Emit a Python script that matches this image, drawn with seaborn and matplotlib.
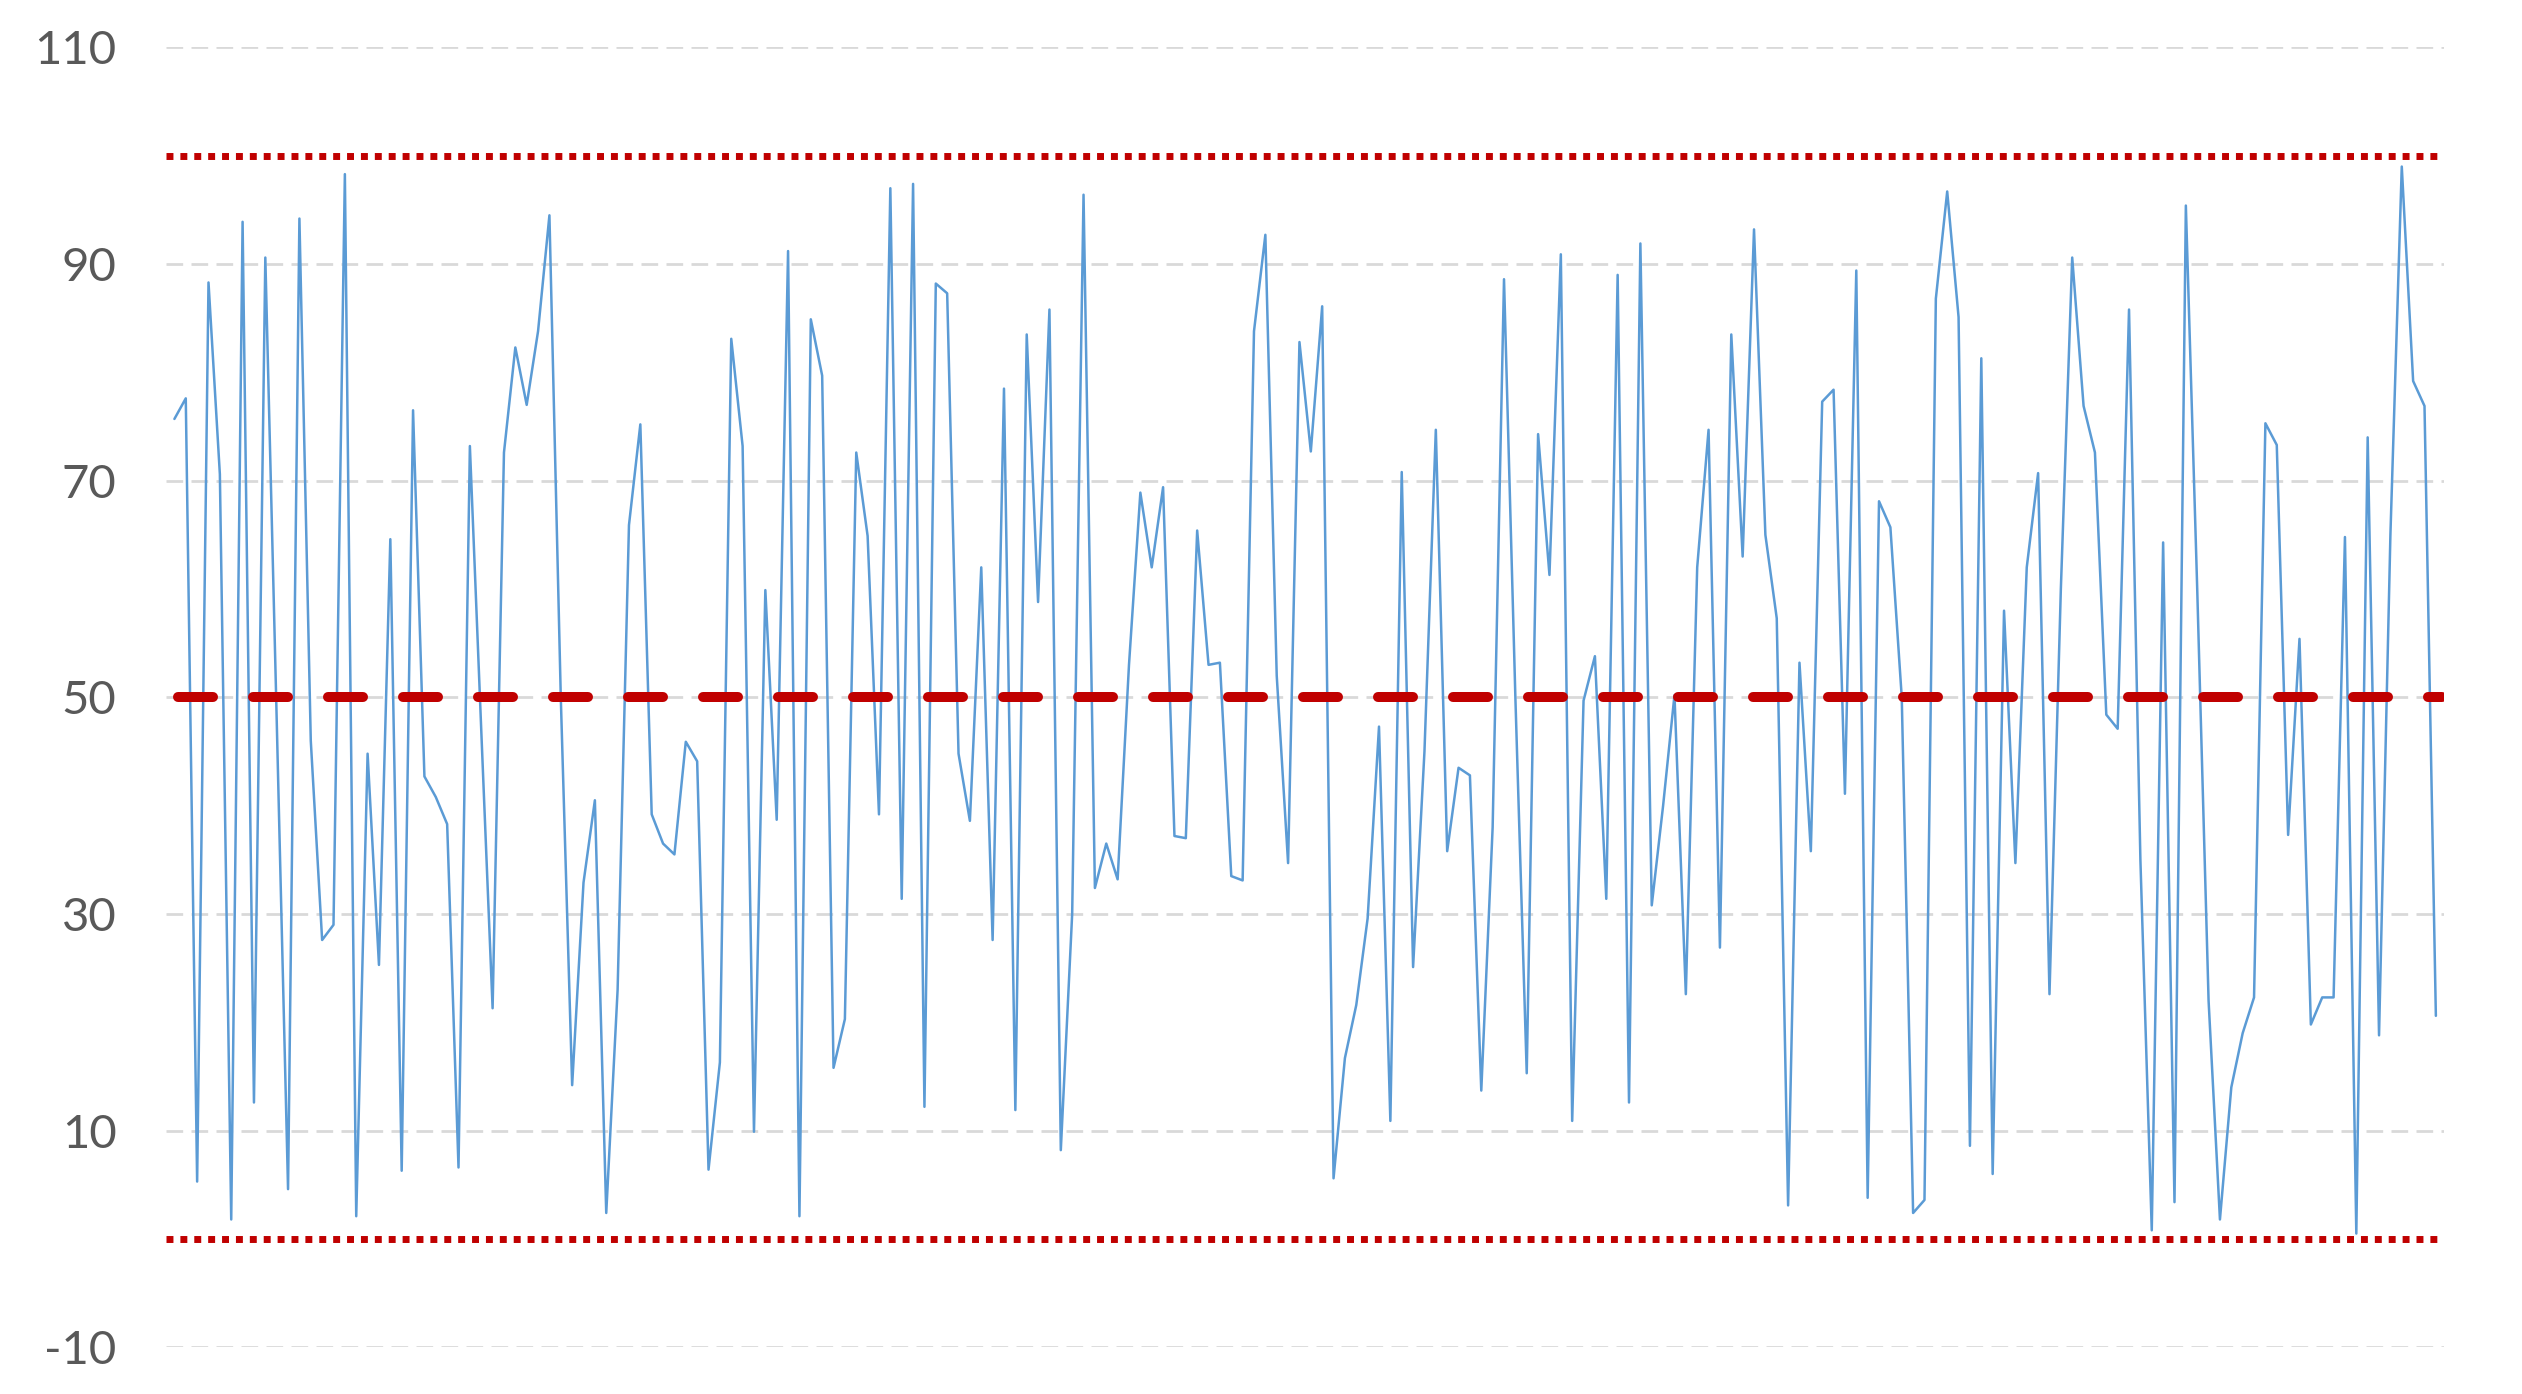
import numpy as np
import pandas as pd
import matplotlib
matplotlib.use("Agg")
import matplotlib.pyplot as plt
import seaborn as sns

# values (200 points)
values = [
    75.7, 77.6, 5.3, 88.3, 70.6, 1.8, 93.9, 12.6, 90.6, 48.0,
    4.6, 94.2, 46.0, 27.6, 29.0, 98.3, 2.1, 44.8, 25.3, 64.6,
    6.3, 76.5, 42.7, 40.8, 38.3, 6.6, 73.2, 47.0, 21.3, 72.6,
    82.3, 77.0, 83.8, 94.5, 50.0, 14.2, 32.9, 40.5, 2.4, 23.0,
    65.9, 75.2, 39.2, 36.5, 35.5, 45.9, 44.1, 6.4, 16.3, 83.1,
    73.2, 9.9, 59.9, 38.7, 91.2, 2.1, 84.9, 79.7, 15.8, 20.3,
    72.6, 64.9, 39.2, 97.0, 31.4, 97.4, 12.2, 88.2, 87.3, 44.8,
    38.6, 62.0, 27.6, 78.5, 11.9, 83.5, 58.8, 85.8, 8.2, 30.0,
    96.4, 32.4, 36.5, 33.2, 53.0, 68.9, 62.0, 69.4, 37.2, 37.0,
    65.4, 53.0, 53.2, 33.5, 33.1, 83.8, 92.7, 52.0, 34.7, 82.8,
    72.7, 86.1, 5.6, 16.7, 21.6, 29.6, 47.3, 10.9, 70.8, 25.1,
    45.0, 74.7, 35.8, 43.5, 42.8, 13.7, 38.0, 88.6, 50.0, 15.3,
    74.3, 61.3, 90.9, 10.9, 49.7, 53.8, 31.4, 89.0, 12.6, 91.9,
    30.8, 40.0, 50.2, 22.6, 62.0, 74.7, 26.9, 83.5, 63.0, 93.2,
    65.0, 57.3, 3.1, 53.2, 35.8, 77.3, 78.4, 41.1, 89.4, 3.8,
    68.1, 65.7, 50.0, 2.4, 3.6, 86.8, 96.7, 85.1, 8.6, 81.3,
    6.0, 58.0, 34.7, 62.0, 70.7, 22.6, 60.0, 90.6, 76.9, 72.6,
    48.4, 47.1, 85.8, 35.0, 0.8, 64.3, 3.4, 95.4, 60.0, 22.0,
    1.8, 14.0, 19.0, 22.3, 75.3, 73.3, 37.3, 55.4, 19.8, 22.3,
    22.3, 64.8, 0.5, 74.0, 18.8, 65.0, 99.0, 79.2, 76.9, 20.6,
]
upper_limit = 100
lower_limit = 0
center_line = 50
y_ticks = [-10, 10, 30, 50, 70, 90, 110]

df = pd.DataFrame({"sample": np.arange(len(values)), "value": values})

sns.set_theme(style="white")
plt.rcParams['font.family'] = ['Lato', 'DejaVu Sans']

fig = plt.figure(figsize=(25.22, 13.94), dpi=100)
ax = fig.add_axes([0.066, 0.0335, 0.903, 0.9325])

# grid lines
for t in y_ticks:
    ax.axhline(t, color="#D9D9D9", lw=2.0, dashes=(6, 3), zorder=0)

sns.lineplot(data=df, x="sample", y="value", color="#5B9BD5", lw=1.8, ax=ax, zorder=2)

# control limits
ax.axhline(upper_limit, color="#C00000", lw=5, dashes=(1, 1), dash_capstyle="butt", zorder=3)
ax.axhline(lower_limit, color="#C00000", lw=5, dashes=(1, 1), dash_capstyle="butt", zorder=3)
ax.plot([0.005, 0.999], [center_line, center_line], transform=ax.get_yaxis_transform(),
        color="#C00000", lw=7.2, dashes=(3.5, 4.0), dash_capstyle="round", zorder=3)

ax.set_xlim(-0.7, len(values) - 1 + 0.7)
ax.set_ylim(-10, 110)
ax.set_yticks(y_ticks)
ax.set_yticklabels([str(t) for t in y_ticks], fontsize=34, color="#595959")
ax.set_xticks([])
ax.tick_params(axis="y", length=0, pad=36)
ax.set_xlabel("")
ax.set_ylabel("")
for s in ax.spines.values():
    s.set_visible(False)

fig.savefig("out.png", dpi=100, facecolor="white")
